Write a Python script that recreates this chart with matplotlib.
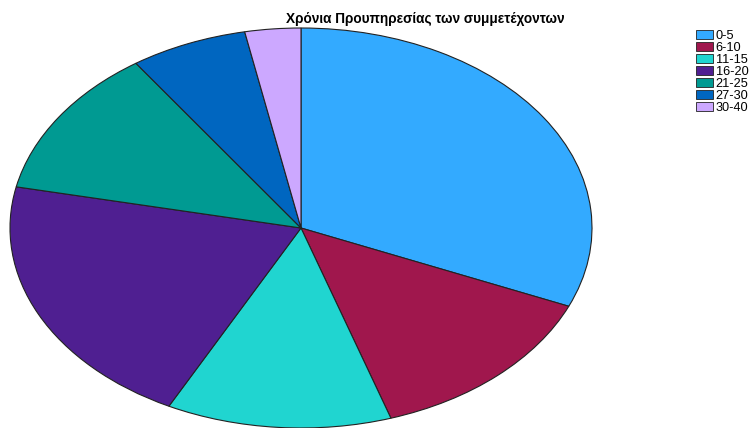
import matplotlib.pyplot as plt
from matplotlib.patches import Patch

labels = ["0-5", "6-10", "11-15", "16-20", "21-25", "27-30", "30-40"]
shares = [31.4, 13.6, 12.5, 20.8, 12.1, 6.5, 3.1]
colors = ["#33AAFF", "#A0174D", "#20D5D0", "#4F1F91", "#009A92", "#0066C0", "#CCA8FF"]

fig = plt.figure(figsize=(7.56, 4.28), dpi=100)

# pie axes stretched horizontally so the pie comes out as an ellipse
ax = fig.add_axes([10 / 756, 0.0, 582 / 756, 400 / 428])
ax.pie(
    shares,
    colors=colors,
    startangle=90,
    counterclock=False,
    wedgeprops=dict(edgecolor="#222222", linewidth=0.8),
)
ax.set_aspect("auto")
ax.set_xlim(-1.0, 1.0)
ax.set_ylim(-1.0, 1.0)
ax.axis("off")

fig.text(0.562, 0.955, "Χρόνια Προυπηρεσίας των συμμετέχοντων",
         ha="center", va="center", fontsize=9.8, fontweight="bold",
         family="Liberation Sans")

handles = [Patch(facecolor=c, edgecolor="#222222", linewidth=0.6) for c in colors]
fig.legend(
    handles, labels,
    loc="upper left", bbox_to_anchor=(696 / 756, 1 - 30 / 428),
    frameon=False, prop=dict(family="Liberation Sans", size=9.2),
    handlelength=1.3, handleheight=0.65, handletextpad=0.25,
    labelspacing=0.0, borderaxespad=0, borderpad=0,
)

fig.savefig("out.png", dpi=100)
